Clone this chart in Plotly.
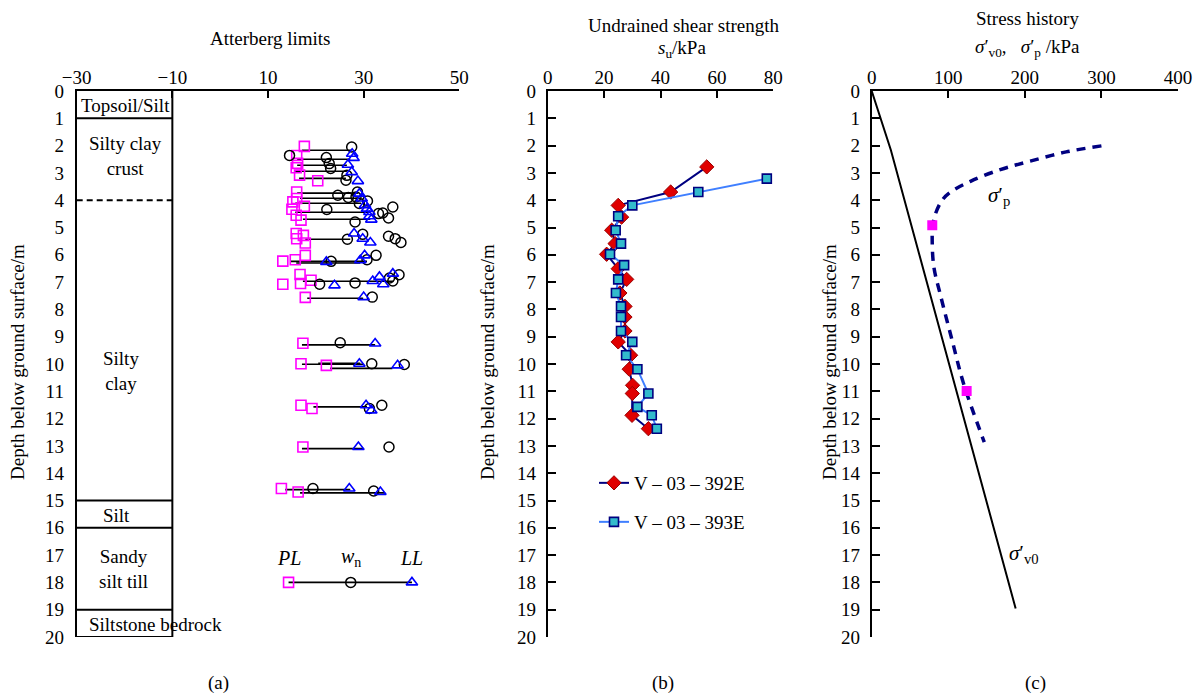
import plotly.graph_objects as go

W, H = 1199, 696
SERIF = "Liberation Serif, Times New Roman, serif"

# ---------------- (a) Atterberg limits (%) versus depth (m) ----------------
pl_depth = [2.03, 2.36, 2.65, 2.81, 3.08, 3.29, 3.70, 3.94, 4.06, 4.22, 4.33, 4.55, 4.73,
            5.22, 5.29, 5.41, 5.57, 6.02, 6.18, 6.23, 6.72, 6.93, 7.05, 7.08, 7.56,
            9.24, 9.99, 10.05, 11.51, 11.63, 13.04, 14.56, 14.69]
pl_value = [17.6, 16.0, 16.2, 15.9, 16.6, 20.4, 16.0, 16.0, 15.2, 17.6, 15.0, 15.9, 16.9,
            15.9, 17.4, 16.0, 17.8, 17.8, 15.7, 13.1, 16.7, 19.0, 16.8, 13.1, 17.8,
            17.3, 16.9, 22.2, 16.9, 19.2, 17.3, 12.8, 16.3]

wn_depth = [2.05, 2.36, 2.44, 2.66, 2.84, 3.09, 3.27, 3.70, 3.82, 3.90, 3.88, 4.12, 4.03,
            4.34, 4.25, 4.49, 4.47, 4.65, 4.80, 5.43, 5.25, 5.32, 5.41, 5.55, 6.24, 6.18,
            6.02, 7.08, 7.03, 6.85, 6.96, 6.73, 7.55, 9.22, 9.99, 10.02, 11.63, 11.51,
            13.04, 14.56, 14.65]
wn_value = [27.5, 14.5, 22.2, 22.8, 23.1, 26.5, 26.3, 28.7, 24.6, 26.8, 28.4, 29.1, 30.8,
            22.3, 36.1, 33.1, 34.0, 35.2, 28.2, 26.6, 29.8, 35.2, 36.6, 37.8, 23.2, 30.7,
            32.6, 20.8, 28.2, 35.4, 36.1, 37.4, 31.8, 25.1, 31.7, 38.5, 31.2, 33.8,
            35.3, 19.4, 32.1]

ll_depth = [2.30, 2.45, 2.70, 2.97, 3.30, 3.76, 3.94, 4.18, 4.31, 4.43, 4.59, 4.71, 5.22,
            5.41, 5.55, 6.26, 6.20, 6.02, 7.12, 6.96, 6.81, 7.08, 6.69, 7.55, 9.25, 9.99,
            10.05, 11.51, 11.70, 13.04, 14.56, 14.69]
ll_value = [27.6, 27.9, 26.7, 27.5, 28.8, 29.1, 29.6, 30.3, 30.7, 31.2, 31.2, 31.6, 28.0,
            29.8, 31.4, 22.2, 29.3, 30.2, 23.9, 31.9, 33.3, 34.1, 36.1, 30.0, 32.4, 29.1,
            37.1, 30.5, 31.6, 28.9, 27.0, 33.5]

# PL-to-LL range bars of the tested samples
bar_depth = [2.17, 2.50, 2.72, 2.94, 3.20, 3.74, 3.93, 4.11, 4.44, 4.70, 5.43, 6.24, 6.30,
             6.97, 7.59, 9.30, 10.01, 9.97, 10.16, 11.57, 13.10, 14.60, 14.72]
bar_pl = [17.1, 16.1, 16.1, 15.7, 16.5, 16.1, 16.7, 15.7, 15.7, 17.3, 17.8, 14.6, 15.9,
          17.3, 18.2, 17.1, 17.1, 20.5, 23.0, 19.5, 17.1, 13.6, 16.7]
bar_ll = [27.4, 27.2, 26.5, 26.5, 26.3, 28.8, 28.8, 29.5, 31.4, 31.4, 27.2, 30.7, 29.3,
          36.2, 29.9, 32.4, 29.9, 29.3, 36.0, 30.7, 29.9, 27.2, 34.5]

# key sample (PL, wn, LL) at 18 m
key_depth = 18.0
key_pl, key_wn, key_ll = 14.3, 27.3, 40.1

# soil profile
layer_bounds = [1, 4, 15, 16, 19, 20]
layer_dashed = [False, True, False, False, False, False]
layer_names = ["Topsoil/Silt", "Silty clay<br>crust", "Silty<br>clay", "Silt",
               "Sandy<br>silt till", "Siltstone bedrock"]
layer_label_x = [-19.7, -19.9, -20.7, -21.6, -20.3, -13.6]
layer_label_depth = [0.52, 2.38, 10.25, 15.55, 17.5, 19.56]

# ---------------- (b) field vane undrained shear strength (kPa) ----------------
v392_depth = [2.78, 3.70, 4.19, 4.62, 5.10, 5.59, 5.98, 6.51, 6.90, 7.40, 7.89, 8.28,
              8.79, 9.19, 9.68, 10.19, 10.78, 11.08, 11.88, 12.37]
v392_su = [56.4, 43.6, 25.0, 26.2, 22.7, 23.9, 20.9, 25.0, 28.0, 25.6, 27.4, 27.4,
           27.4, 25.0, 29.4, 28.9, 30.1, 30.0, 29.9, 35.7]
v393_depth = [3.21, 3.70, 4.19, 4.59, 5.10, 5.59, 5.98, 6.38, 6.90, 7.40, 7.89, 8.28,
              8.79, 9.19, 9.68, 10.19, 11.08, 11.57, 11.88, 12.37]
v393_su = [77.7, 53.4, 30.0, 25.0, 24.1, 26.0, 22.1, 27.1, 25.0, 24.2, 26.0, 26.0,
           26.0, 30.0, 27.8, 31.8, 35.7, 31.8, 36.9, 38.7]

# ---------------- (c) stress history (kPa) ----------------
sv0_depth = [0.0, 2.16, 18.96]
sv0_stress = [0.0, 25.0, 188.0]
sp_depth = [2.01, 2.23, 2.57, 2.88, 3.31, 3.70, 4.00, 4.49, 4.92, 5.47, 6.45, 7.50,
            9.13, 10.72, 12.86]
sp_stress = [300, 254, 207, 168, 129, 103, 92, 83.4, 79.8, 79, 81.2, 90, 105, 120, 147]
sp_meas_depth = [4.92, 10.99]
sp_meas_stress = [79.1, 124.0]


def px(x):
    return x / W


def py(y):
    return 1 - y / H


fig = go.Figure()

# (a) range bars
bx, by = [], []
for d, a, b in zip(bar_depth, bar_pl, bar_ll):
    bx += [a, b, None]
    by += [d, d, None]
bx += [key_pl, key_ll]
by += [key_depth, key_depth]
fig.add_trace(go.Scatter(x=bx, y=by, mode="lines", line=dict(color="black", width=1.6),
                         xaxis="x", yaxis="y", showlegend=False, hoverinfo="skip"))

fig.add_trace(go.Scatter(x=pl_value + [key_pl], y=pl_depth + [key_depth], mode="markers",
                         marker=dict(symbol="square-open", size=10, color="#ff00ff",
                                     line=dict(width=1.6)),
                         xaxis="x", yaxis="y", showlegend=False))
fig.add_trace(go.Scatter(x=wn_value + [key_wn], y=wn_depth + [key_depth], mode="markers",
                         marker=dict(symbol="circle-open", size=10, color="black",
                                     line=dict(width=1.5)),
                         xaxis="x", yaxis="y", showlegend=False))
fig.add_trace(go.Scatter(x=ll_value + [key_ll], y=ll_depth + [key_depth], mode="markers",
                         marker=dict(symbol="triangle-up-open", size=10, color="#0000ff",
                                     line=dict(width=1.6)),
                         xaxis="x", yaxis="y", showlegend=False))

# (b) vane profiles
fig.add_trace(go.Scatter(x=v392_su, y=v392_depth, mode="lines+markers",
                         name="V – 03 – 392E",
                         line=dict(color="#000080", width=2),
                         marker=dict(symbol="diamond", size=11, color="#e00000",
                                     line=dict(color="#990000", width=1)),
                         xaxis="x2", yaxis="y2", legend="legend"))
fig.add_trace(go.Scatter(x=v393_su, y=v393_depth, mode="lines+markers",
                         name="V – 03 – 393E",
                         line=dict(color="#3f7fff", width=2),
                         marker=dict(symbol="square", size=9, color="#33bbcc",
                                     line=dict(color="#000080", width=1.6)),
                         xaxis="x2", yaxis="y2", legend="legend2"))

# (c) stress history
fig.add_trace(go.Scatter(x=sv0_stress, y=sv0_depth, mode="lines",
                         line=dict(color="black", width=2),
                         xaxis="x3", yaxis="y3", showlegend=False))
fig.add_trace(go.Scatter(x=sp_stress, y=sp_depth, mode="lines",
                         line=dict(color="#000080", width=3.5, dash="9px,7px", shape="spline"),
                         xaxis="x3", yaxis="y3", showlegend=False))
fig.add_trace(go.Scatter(x=sp_meas_stress, y=sp_meas_depth, mode="markers",
                         marker=dict(symbol="square", size=10, color="#ff00ff"),
                         xaxis="x3", yaxis="y3", showlegend=False))

# soil profile column in (a)
shapes = [dict(type="line", xref="x", yref="y", x0=-10, x1=-10, y0=0, y1=20,
               line=dict(color="black", width=2))]
for d, dashed in zip(layer_bounds, layer_dashed):
    shapes.append(dict(type="line", xref="x", yref="y", x0=-30, x1=-10, y0=d, y1=d,
                       line=dict(color="black", width=2, dash="6px,4px" if dashed else "solid")))

annotations = []
for name, lx, ld in zip(layer_names, layer_label_x, layer_label_depth):
    annotations.append(dict(text=name, x=lx, y=ld, xref="x", yref="y", showarrow=False,
                            font=dict(family=SERIF, size=19, color="black")))

# key labels
for txt, kx in [("<i>PL</i>", key_pl), ("<i>w</i><sub>n</sub>", key_wn), ("<i>LL</i>", key_ll)]:
    annotations.append(dict(text=txt, x=kx, y=17.1, xref="x", yref="y", showarrow=False,
                            font=dict(family=SERIF, size=20, color="black")))

annotations.append(dict(text="<i>σ</i>′<sub>p</sub>", x=166, y=3.85, xref="x3", yref="y3",
                        showarrow=False, font=dict(family=SERIF, size=21, color="black")))
annotations.append(dict(text="<i>σ</i>′<sub>v0</sub>", x=199, y=16.95, xref="x3", yref="y3",
                        showarrow=False, font=dict(family=SERIF, size=21, color="black")))


def note(text, x, y, size=19, angle=0):
    annotations.append(dict(text=text, x=px(x), y=py(y), xref="paper", yref="paper",
                            showarrow=False, textangle=angle, xanchor="center",
                            yanchor="middle", font=dict(family=SERIF, size=size, color="black")))


note("Atterberg limits", 270, 38)
note("Undrained shear strength", 683, 25)
note("<i>s</i><sub>u</sub>/kPa", 682, 49)
note("Stress history", 1027, 19)
note("<i>σ</i>′<sub>v0</sub>,   <i>σ</i>′<sub>p</sub> /kPa", 1027, 48)
for xx in (18, 488, 830):
    note("Depth below ground surface/m", xx, 362, size=19, angle=-90)
note("(a)", 218, 683)
note("(b)", 663, 683)
note("(c)", 1035, 683)

tick_font = dict(family=SERIF, size=19, color="black")
ydom = [py(637), py(91)]


def xaxis(dom, rng, dtick, tick0, anchor):
    return dict(domain=[px(dom[0]), px(dom[1])], range=rng, side="top", anchor=anchor,
                dtick=dtick, tick0=tick0, ticks="inside", ticklen=7, tickwidth=1.5,
                tickcolor="black", showline=True, linecolor="black", linewidth=2,
                showgrid=False, zeroline=False, tickfont=tick_font, ticklabelstandoff=-3,
                automargin=False)


def yaxis(anchor, ticks, standoff):
    return dict(domain=ydom, range=[20, 0], anchor=anchor, dtick=1, tick0=0,
                ticks=ticks, ticklen=8, tickwidth=1.5, tickcolor="black",
                showline=True, linecolor="black", linewidth=2, showgrid=False,
                zeroline=False, tickfont=tick_font, ticklabelstandoff=standoff,
                automargin=False)


fig.update_layout(
    width=W, height=H, autosize=False,
    margin=dict(l=0, r=0, t=0, b=0, pad=0, autoexpand=False),
    paper_bgcolor="white", plot_bgcolor="rgba(0,0,0,0)",
    font=dict(family=SERIF, color="black"),
    xaxis=xaxis((76.7, 459.3), [-30, 50], 20, -30, "y"),
    yaxis=yaxis("x", "", 7),
    xaxis2=xaxis((547.7, 773.3), [0, 80], 20, 0, "y2"),
    yaxis2=yaxis("x2", "inside", 6),
    xaxis3=xaxis((871.7, 1178), [0, 400], 100, 0, "y3"),
    yaxis3=yaxis("x3", "inside", 6),
    shapes=shapes,
    annotations=annotations,
    legend=dict(x=px(594), y=py(483), xanchor="left", yanchor="middle",
                font=dict(family=SERIF, size=19, color="black"), bgcolor="rgba(0,0,0,0)",
                itemwidth=30),
    legend2=dict(x=px(594), y=py(522), xanchor="left", yanchor="middle",
                 font=dict(family=SERIF, size=19, color="black"), bgcolor="rgba(0,0,0,0)",
                 itemwidth=30),
)

fig.write_html("out.html")
